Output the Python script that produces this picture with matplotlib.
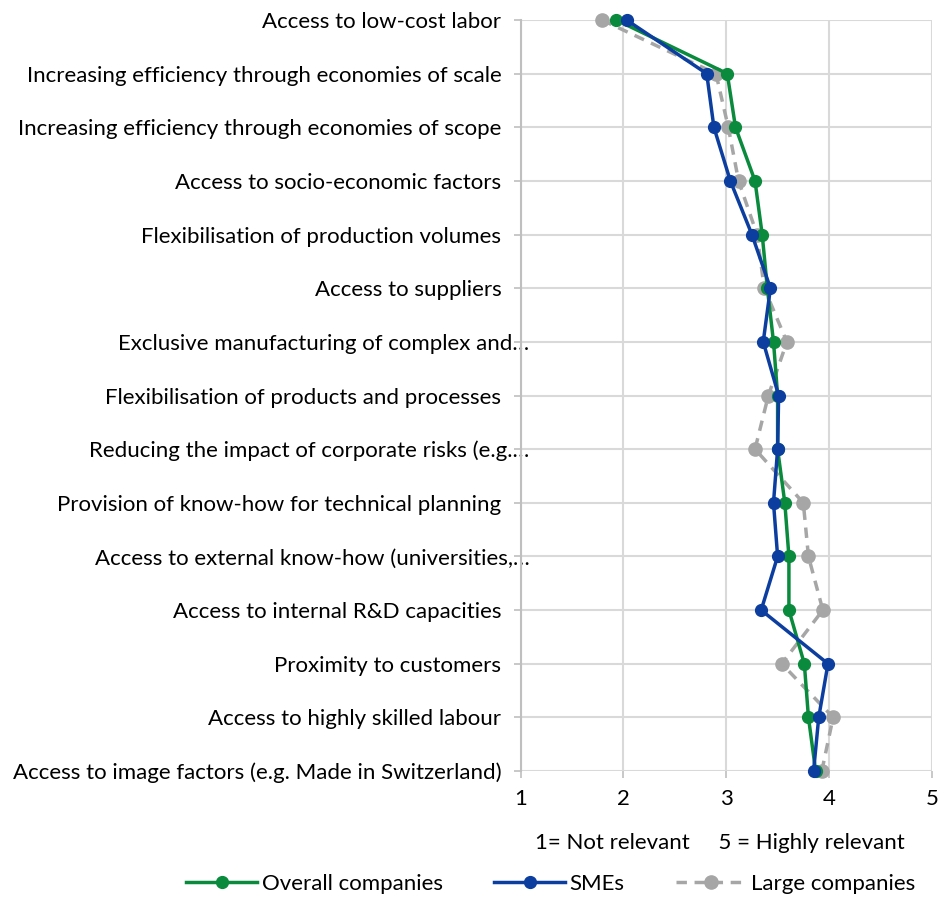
import matplotlib
matplotlib.use("Agg")
import matplotlib.pyplot as plt
from matplotlib.transforms import ScaledTranslation

plt.rcParams['font.family'] = ['Lato', 'DejaVu Sans']

categories = [
    "Access to low-cost labor",
    "Increasing efficiency through economies of scale",
    "Increasing efficiency through economies of scope",
    "Access to socio-economic factors",
    "Flexibilisation of production volumes",
    "Access to suppliers",
    "Exclusive manufacturing of complex and…",
    "Flexibilisation of products and processes",
    "Reducing the impact of corporate risks (e.g.…",
    "Provision of know-how for technical planning",
    "Access to external know-how (universities,…",
    "Access to internal R&D capacities",
    "Proximity to customers",
    "Access to highly skilled labour",
    "Access to image factors (e.g. Made in Switzerland)",
]
overall = [1.93, 3.01, 3.09, 3.28, 3.35, 3.40, 3.46, 3.50, 3.50, 3.57, 3.61, 3.61, 3.76, 3.80, 3.87]
smes    = [2.03, 2.81, 2.88, 3.04, 3.25, 3.43, 3.36, 3.51, 3.50, 3.46, 3.50, 3.34, 3.99, 3.90, 3.85]
large   = [1.79, 2.90, 3.02, 3.12, 3.30, 3.37, 3.59, 3.41, 3.28, 3.75, 3.80, 3.94, 3.54, 4.04, 3.93]
xticks = [1, 2, 3, 4, 5]
series_names = ["Overall companies", "SMEs", "Large companies"]

fig = plt.figure(figsize=(9.45, 9.0), dpi=100)
ax = fig.add_axes([0.551, 0.1433, 0.435, 0.8345])

y = list(range(len(categories)))
green = "#0a8a3c"
blue = "#0c3ea0"
gray = "#a6a6a6"

ax.plot(large, y, color=gray, lw=2.5, ls=(0, (3, 2.2)), marker='o', ms=9.5,
        label=series_names[2], clip_on=False, zorder=3)
ax.plot(overall, y, color=green, lw=2.5, marker='o', ms=8.5,
        label=series_names[0], clip_on=False, zorder=4)
ax.plot(smes, y, color=blue, lw=2.5, marker='o', ms=8.5,
        label=series_names[1], clip_on=False, zorder=5)

fs = 16
ax.set_xlim(1, 5)
ax.set_ylim(len(categories) - 1, 0)
ax.set_xticks(xticks)
ax.set_xticklabels([str(v) for v in xticks], fontsize=fs)
ax.set_yticks(y)
ax.set_yticklabels(categories, fontsize=fs)
ax.tick_params(axis='y', length=5, color="#bfbfbf", width=1.2, pad=9)
ax.tick_params(axis='x', length=5, color="#bfbfbf", width=1.2, pad=8)
ax.grid(True, color="#d9d9d9", lw=1.5)
ax.set_axisbelow(True)
for s in ['top', 'right', 'bottom']:
    ax.spines[s].set_visible(False)
ax.spines['left'].set_color("#bfbfbf")
ax.spines['left'].set_linewidth(1.5)

# truncated labels extend further right
for lab in ax.get_yticklabels():
    if lab.get_text().endswith("…"):
        lab.set_transform(lab.get_transform() + ScaledTranslation(0.28, 0, fig.dpi_scale_trans))

fig.text(0.762, 1 - 843 / 900, "1= Not relevant     5 = Highly relevant",
         ha='center', va='center', fontsize=fs)

handles, labels = ax.get_legend_handles_labels()
order = [1, 2, 0]
fig.legend([handles[i] for i in order], [labels[i] for i in order],
           loc='center', bbox_to_anchor=(0.583, 1 - 884 / 900), ncol=3,
           frameon=False, fontsize=fs, handlelength=3.2, columnspacing=2.3,
           handletextpad=0.2)

fig.savefig("out.png", dpi=100)
